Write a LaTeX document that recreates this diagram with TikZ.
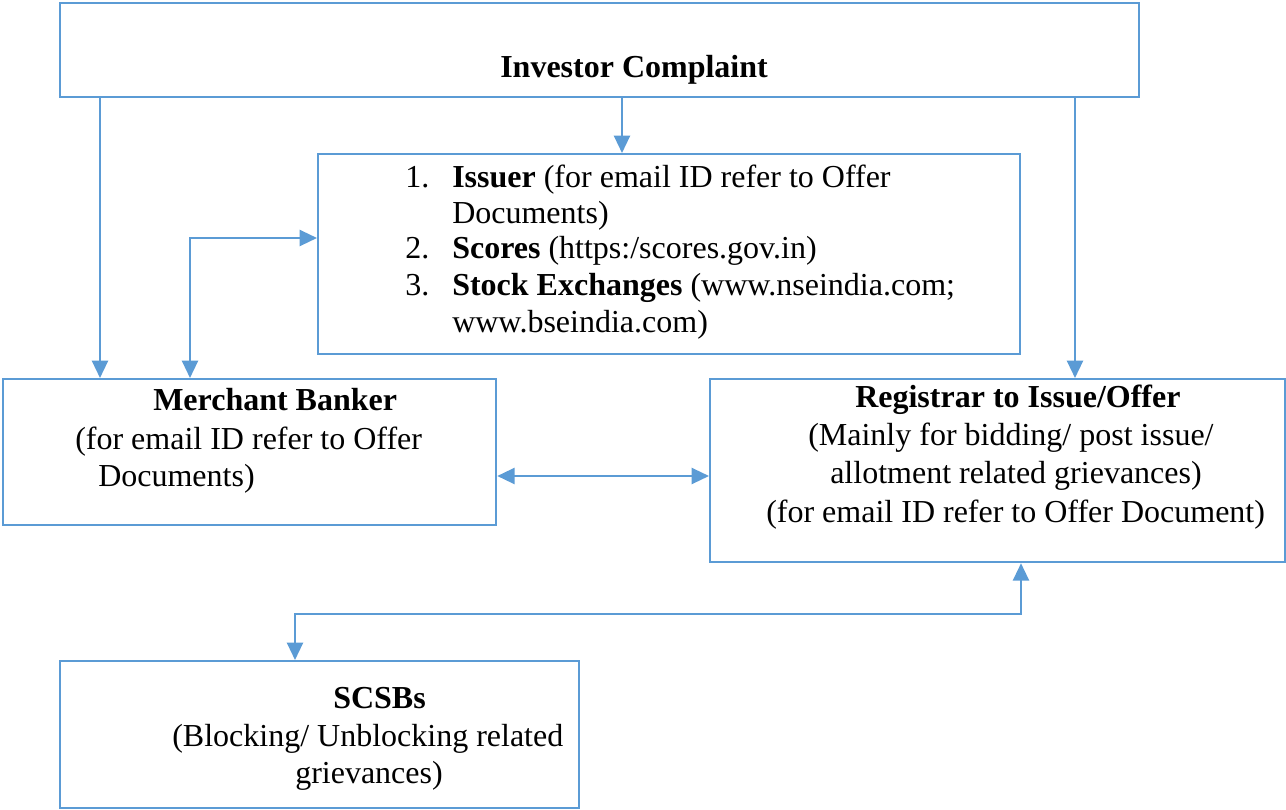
\documentclass[tikz,border=0pt]{standalone}
\usepackage{fontspec}
\setmainfont{Liberation Serif}
\usetikzlibrary{arrows.meta}
\definecolor{ln}{HTML}{5B9BD5}
\begin{document}
\begin{tikzpicture}[x=0.75pt,y=-0.75pt,
  box/.style={draw=ln,line width=1.7pt,inner sep=0pt,anchor=north west},
  conn/.style={draw=ln,line width=1.7pt,-{Triangle[length=13pt,width=12pt]}},
  both/.style={draw=ln,line width=1.7pt,{Triangle[length=13pt,width=12pt]}-{Triangle[length=13pt,width=12pt]}},
  txt/.style={anchor=base west,inner sep=0pt,font=\fontsize{24}{28}\selectfont}]
\useasboundingbox (0,0) rectangle (1286,810);
% boxes
\node[box,minimum width=809.25pt,minimum height=70.5pt] (ic) at (59,2) {};
\node[box,minimum width=526.5pt,minimum height=150pt] (iss) at (317,153) {};
\node[box,minimum width=369.75pt,minimum height=109.5pt] (mb) at (2,378) {};
\node[box,minimum width=431.25pt,minimum height=137.25pt] (reg) at (709,378) {};
\node[box,minimum width=389.25pt,minimum height=110.25pt] (sc) at (59,660) {};
% helper coordinates
\coordinate (xl) at (100,0);
\coordinate (xm) at (622,0);
\coordinate (xr) at (1075,0);
\coordinate (xe) at (190,0);
\coordinate (ye) at (0,238);
\coordinate (yh) at (0,476);
\coordinate (xs) at (295,0);
\coordinate (ys) at (0,614);
\coordinate (xg) at (1021,0);
% connectors
\draw[conn] (ic.south -| xl) -- (mb.north -| xl);
\draw[conn] (ic.south -| xm) -- (iss.north -| xm);
\draw[conn] (ic.south -| xr) -- (reg.north -| xr);
\draw[both] (mb.north -| xe) |- (iss.west |- ye);
\draw[both] (mb.east |- yh) -- (reg.west |- yh);
\draw[both] (sc.north -| xs) -- (xs |- ys) -| (reg.south -| xg);
% texts
\node[txt] (t0) at (500,77) {\textbf{Investor Complaint}};
\node[txt] (n1) at (405,187) {1.};
\node[txt] (t1) at (452,187) {\textbf{Issuer} (for email ID refer to Offer};
\node[txt] (t2) at (452,223) {Documents)};
\node[txt] (n2) at (405,258) {2.};
\node[txt] (t3) at (452,258) {\textbf{Scores} (https:/scores.gov.in)};
\node[txt] (n3) at (405,295) {3.};
\node[txt] (t4) at (452,295) {\textbf{Stock Exchanges} (www.nseindia.com;};
\node[txt] (t5) at (452,332) {www.bseindia.com)};
\node[txt] (m1) at (153,410) {\textbf{Merchant Banker}};
\node[txt] (m2) at (75,449) {(for email ID refer to Offer};
\node[txt] (m3) at (98,486) {Documents)};
\node[txt] (r1) at (855,407) {\textbf{Registrar to Issue/Offer}};
\node[txt] (r2) at (808,445) {(Mainly for bidding/ post issue/};
\node[txt] (r3) at (830,483) {allotment related grievances)};
\node[txt] (r4) at (766,522) {(for email ID refer to Offer Document)};
\node[txt] (s1) at (333,708) {\textbf{SCSBs}};
\node[txt] (s2) at (172,746) {(Blocking/ Unblocking related};
\node[txt] (s3) at (295,783) {grievances)};
\end{tikzpicture}
\end{document}
